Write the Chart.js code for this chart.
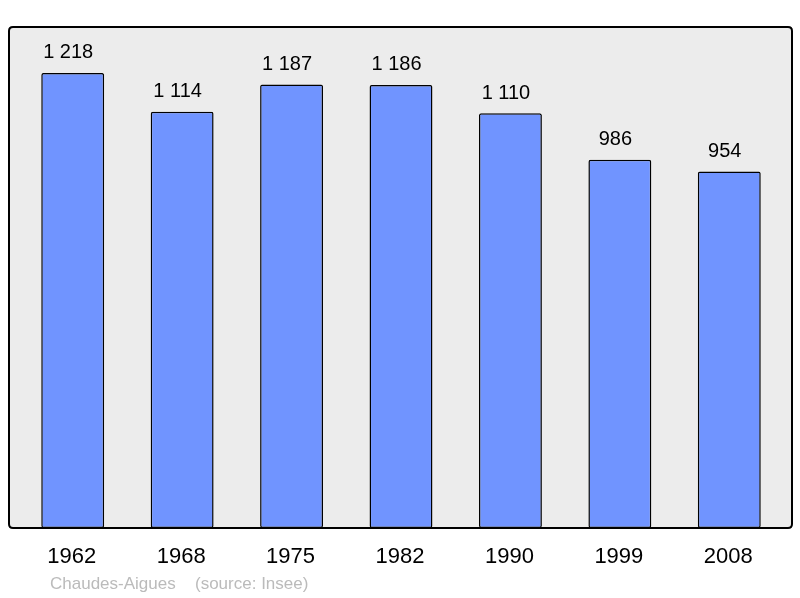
<!DOCTYPE html>
<html>
<head>
<meta charset="utf-8">
<script src="https://cdn.jsdelivr.net/npm/chart.js@4/dist/chart.umd.min.js"></script>
<style>
html,body{margin:0;padding:0;background:#fff;}
#wrap{width:800px;height:598px;position:relative;}
</style>
</head>
<body>
<div id="wrap"><canvas id="c" width="800" height="598"></canvas></div>
<script>
const years = ["1962","1968","1975","1982","1990","1999","2008"];
const population = [1218,1114,1187,1186,1110,986,954];
const valueLabels = ["1 218","1 114","1 187","1 186","1 110","986","954"];
const placeName = "Chaudes-Aigues";
const sourceText = "(source: Insee)";

function roundRect(ctx,x,y,w,h,r){
  ctx.beginPath();
  ctx.moveTo(x+r,y);
  ctx.lineTo(x+w-r,y);
  ctx.quadraticCurveTo(x+w,y,x+w,y+r);
  ctx.lineTo(x+w,y+h-r);
  ctx.quadraticCurveTo(x+w,y+h,x+w-r,y+h);
  ctx.lineTo(x+r,y+h);
  ctx.quadraticCurveTo(x,y+h,x,y+h-r);
  ctx.lineTo(x,y+r);
  ctx.quadraticCurveTo(x,y,x+r,y);
  ctx.closePath();
}

const decor = {
  id:'decor',
  beforeDatasetsDraw(chart){
    const ctx = chart.ctx;
    ctx.save();
    roundRect(ctx,9,27,783,501,4);
    ctx.fillStyle = '#ececec';
    ctx.fill();
    ctx.restore();
  },
  afterDatasetsDraw(chart){
    const ctx = chart.ctx;
    ctx.save();
    roundRect(ctx,9,27,783,501,4);
    ctx.lineWidth = 2;
    ctx.strokeStyle = '#000';
    ctx.stroke();
    const meta = chart.getDatasetMeta(0);
    const xs = chart.scales.x;
    ctx.fillStyle = '#000';
    ctx.textAlign = 'center';
    ctx.textBaseline = 'middle';
    ctx.font = '20px "Liberation Sans", Arial, sans-serif';
    meta.data.forEach((bar,i)=>{
      ctx.fillText(valueLabels[i], bar.x - 4.5, bar.y - 20);
    });
    ctx.font = '22px "Liberation Sans", Arial, sans-serif';
    years.forEach((y,i)=>{
      ctx.fillText(y, xs.getPixelForValue(i) - 1, 557);
    });
    ctx.font = '17px "Liberation Sans", Arial, sans-serif';
    ctx.fillStyle = '#bbbbbb';
    ctx.textAlign = 'left';
    ctx.fillText(placeName, 50, 584);
    ctx.fillText(sourceText, 195, 584);
    ctx.restore();
  }
};

new Chart(document.getElementById('c'),{
  type:'bar',
  data:{
    labels: years,
    datasets:[{
      data: population,
      backgroundColor:'#7094ff',
      borderColor:'#000',
      borderWidth:1.5,
      borderSkipped:false,
      borderRadius:2,
      barPercentage:0.575,
      categoryPercentage:1
    }]
  },
  options:{
    responsive:false,
    animation:false,
    devicePixelRatio:1,
    layout:{padding:{left:18,right:16,top:27,bottom:70}},
    plugins:{legend:{display:false},tooltip:{enabled:false}},
    scales:{
      x:{display:false},
      y:{display:false,min:0,max:1341}
    }
  },
  plugins:[decor]
});
</script>
</body>
</html>
